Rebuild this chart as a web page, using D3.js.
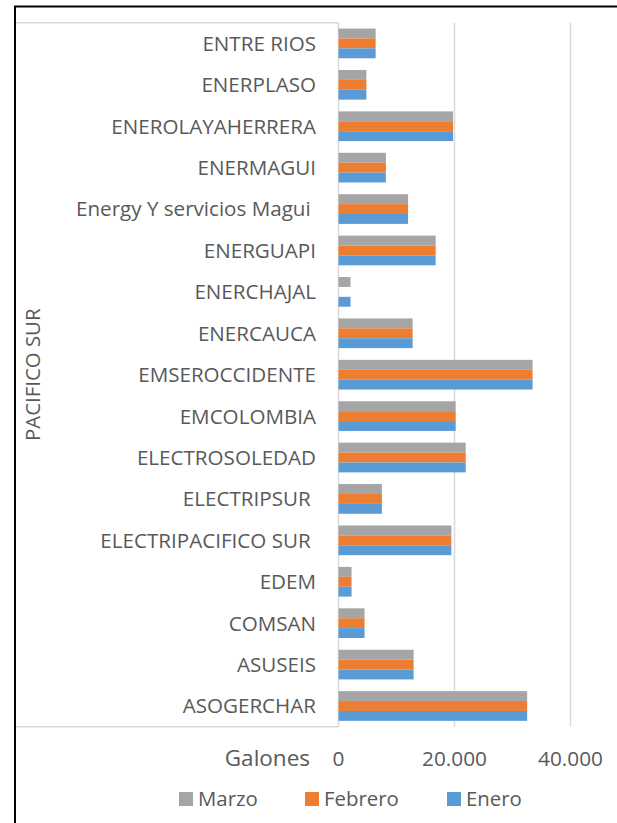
<!DOCTYPE html>
<html>
<head>
<meta charset="utf-8">
<script src="https://cdn.jsdelivr.net/npm/d3@7/dist/d3.min.js"></script>
<style>
html,body{margin:0;padding:0;background:#fff;}
svg{display:block;}
text{font-family:"Open Sans",Lato,sans-serif;fill:#595959;white-space:pre;}
</style>
</head>
<body>
<svg id="chart" width="617" height="823"></svg>
<script>
// Categories, top to bottom as displayed
const categories = [
  "ENTRE RIOS","ENERPLASO","ENEROLAYAHERRERA","ENERMAGUI","Energy Y servicios Magui ",
  "ENERGUAPI","ENERCHAJAL","ENERCAUCA","EMSEROCCIDENTE","EMCOLOMBIA",
  "ELECTROSOLEDAD","ELECTRIPSUR ","ELECTRIPACIFICO SUR ","EDEM","COMSAN","ASUSEIS","ASOGERCHAR"
];
const groupLabel = "PACIFICO SUR";
const seriesNames = ["Marzo","Febrero","Enero"];
const seriesColors = ["#A5A5A5","#ED7D31","#5B9BD5"];
const marzo   = [6400,4800,19750,8170,12000,16750,2070,12780,33460,20200,21930,7480,19460,2250,4490,12950,32530];
const febrero = [6400,4800,19750,8170,12000,16750,0,12780,33460,20200,21930,7480,19460,2250,4490,12950,32530];
const enero   = [6400,4800,19750,8170,12000,16750,2070,12780,33460,20200,21930,7480,19460,2250,4490,12950,32530];
const xTicks = [0,20000,40000];
const axisTitle = "Galones";

const seriesValues = [marzo, febrero, enero];
const svg = d3.select("#chart");

// frame
svg.append("path").attr("d","M15,823 V6.5 H617").attr("fill","none").attr("stroke","#000").attr("stroke-width",2);

const x = d3.scaleLinear().domain([0,40000]).range([338.5,570.5]);
const y = d3.scaleBand().domain(categories).range([22.7,726.7]).paddingInner(0.283).paddingOuter(0.1415);
const ySub = d3.scaleBand().domain(seriesNames).range([0,y.bandwidth()]);

const loc = d3.formatLocale({decimal:",",thousands:".",grouping:[3],currency:["$",""]});
const fmt = loc.format(",d");

// gridlines
svg.append("g").selectAll("line").data(xTicks.slice(1)).join("line")
  .attr("x1",d=>x(d)).attr("x2",d=>x(d)).attr("y1",22.7).attr("y2",726.7)
  .attr("stroke","#d9d9d9").attr("stroke-width",1.5);

// category box lines
const boxG = svg.append("g").attr("stroke","#d9d9d9").attr("stroke-width",1.5).attr("fill","none");
boxG.append("line").attr("x1",16).attr("x2",x(0)).attr("y1",22.7).attr("y2",22.7);
boxG.append("line").attr("x1",16).attr("x2",x(0)).attr("y1",726.7).attr("y2",726.7);
boxG.append("line").attr("x1",x(0)).attr("x2",x(0)).attr("y1",22.7).attr("y2",726.7);

// bars
const rows = categories.map((c,i)=>({cat:c, vals:seriesNames.map((s,j)=>({s, v:seriesValues[j][i], color:seriesColors[j]}))}));
const g = svg.append("g").selectAll("g").data(rows).join("g").attr("transform",d=>`translate(0,${y(d.cat)})`);
g.selectAll("rect").data(d=>d.vals).join("rect")
  .attr("x",x(0)).attr("y",d=>ySub(d.s)).attr("height",ySub.bandwidth())
  .attr("width",d=>x(d.v)-x(0)).attr("fill",d=>d.color);

// category labels
svg.append("g").selectAll("text").data(categories).join("text")
  .attr("x",316).attr("y",d=>y(d)+y.bandwidth()/2).attr("dy","0.36em")
  .attr("text-anchor","end").attr("font-size",20.6).text(d=>d);

// group label
svg.append("text").attr("transform",`translate(40,374.7) rotate(-90)`)
  .attr("text-anchor","middle").attr("font-size",20.4).text(groupLabel);

// x tick labels
svg.append("g").selectAll("text").data(xTicks).join("text")
  .attr("x",d=>x(d)).attr("y",765.5).attr("text-anchor","middle").attr("font-size",20.8).text(d=>fmt(d));

svg.append("text").attr("x",310).attr("y",765.5).attr("text-anchor","end").attr("font-size",22.5).text(axisTitle);

// legend
const legX = [179,305,447];
const leg = svg.append("g").selectAll("g").data(seriesNames).join("g")
  .attr("transform",(d,i)=>`translate(${legX[i]},792)`);
leg.append("rect").attr("width",14).attr("height",14).attr("fill",(d,i)=>seriesColors[i]);
leg.append("text").attr("x",19).attr("y",14).attr("font-size",20.4).text(d=>d);
</script>
</body>
</html>
